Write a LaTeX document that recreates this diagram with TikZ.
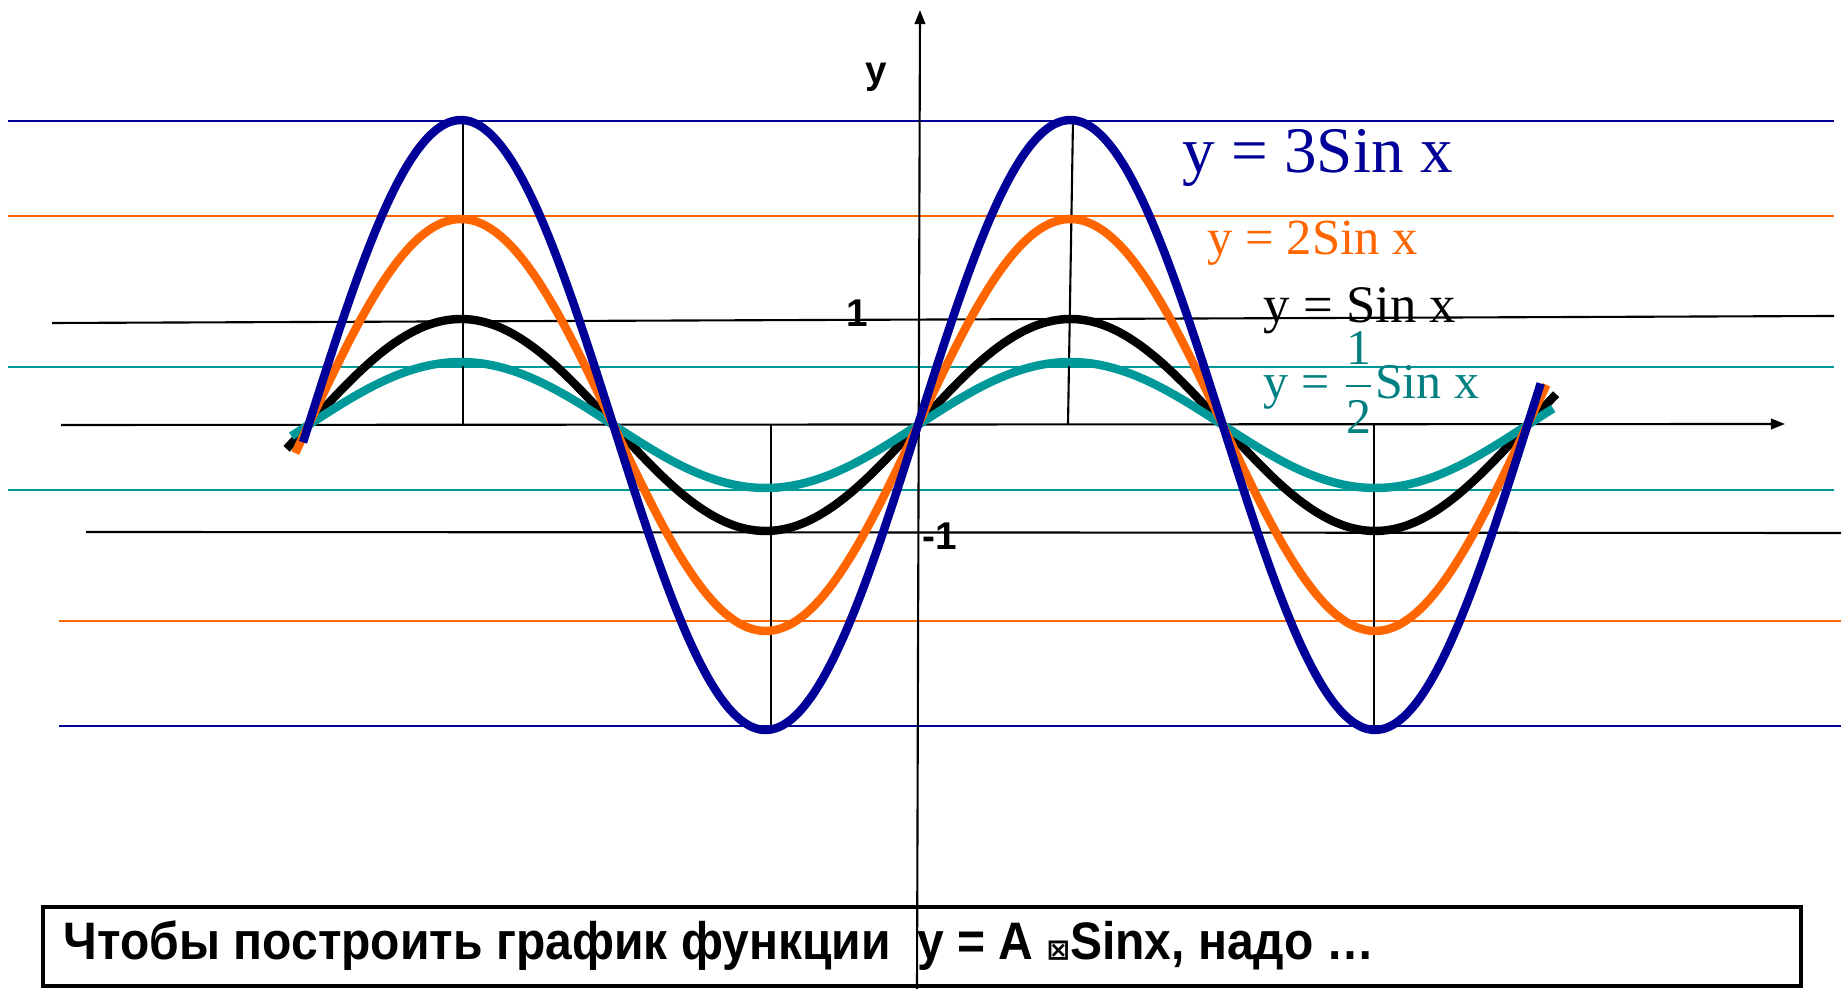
\documentclass[tikz,border=0pt]{standalone}
\usepackage{amsmath}
\usepackage{fontspec}
\setmainfont{Liberation Serif}
\newfontfamily\arialfont{Liberation Sans}
\newfontfamily\narrowfont{Liberation Sans}[FakeStretch=0.91]
\newfontfamily\symbfont{DejaVu Sans}
\usetikzlibrary{arrows.meta}
\definecolor{sinblue}{RGB}{0,0,153}
\definecolor{sinorange}{RGB}{255,102,0}
\definecolor{sinteal}{RGB}{0,153,153}
\definecolor{labelteal}{RGB}{0,128,128}

\begin{document}
\begin{tikzpicture}[x=0.01cm, y=-0.01cm,
    level/.style={line width=0.6pt},
    curve/.style={line width=2.4pt, smooth, samples=120, variable=\t},
    axis/.style={line width=0.6pt, -{Triangle[length=4pt,width=3pt]}},
    tick/.style={font=\arialfont\bfseries\fontsize{11}{13}\selectfont, inner sep=0pt},
    fnlabel/.style={anchor=base west, inner sep=0pt}
]
    \useasboundingbox (0,0) rectangle (1841,989);
    % horizontal levels
    \draw[level, sinblue] (8,121) -- (1834,121);
    \draw[level, sinorange] (8,216) -- (1834,216);
    \draw[level] (52,323) -- (1834,316);
    \draw[level, sinteal] (8,367) -- (1834,367);
    \draw[level, sinteal] (8,490) -- (1834,490);
    \draw[level] (86,532) -- (1841,533);
    \draw[level, sinorange] (59,621) -- (1841,621);
    \draw[level, sinblue] (59,726) -- (1841,726);
    % verticals at extrema
    \draw[level] (463,117) -- (463,425);
    \draw[level] (771,425) -- (771,726);
    \draw[level] (1073,121) -- (1068,425);
    \draw[level] (1374,425) -- (1374,730);
    % caption box
    \draw[line width=1pt] (43,907) rectangle (1801,986);
    \node[anchor=west, inner sep=0pt, font=\narrowfont\bfseries\fontsize{15}{18}\selectfont] (task) at (63,946)
        {Чтобы построить график функции\ \ y = A {\symbfont\fontsize{8}{8}\selectfont ⊠}Sinx, надо …};
    % axes
    \draw[axis] (61,425) -- (1785,424);
    \draw[axis] (917,989) -- (920,10);
    \node[tick] (ylab) at (876,77) {y};
    \node[tick] (one) at (857,313) {1};
    \node[tick] (mone) at (940,536) {-1};
    % curves
    \draw[curve, black, domain=-6.51:6.58] plot ({918+97*\t}, {425-106*sin(\t r)});
    \draw[curve, sinteal, domain=-6.46:6.55] plot ({918+97*\t}, {425-63*sin(\t r)});
    \draw[curve, sinorange, domain=-6.42:6.48] plot ({918+97*\t}, {425-206*sin(\t r)});
    \draw[curve, sinblue, domain=-6.34:6.42] plot ({918+97*\t}, {425-305*sin(\t r)});
    % function labels
    \node[fnlabel, text=sinblue, font=\fontsize{18.5}{22}\selectfont] (lab3) at (1182,173) {y = 3Sin x};
    \node[fnlabel, text=sinorange, font=\fontsize{14.4}{17}\selectfont] (lab2) at (1207,255) {y = 2Sin x};
    \node[fnlabel, text=black, font=\fontsize{15}{18}\selectfont] (lab1) at (1263,323) {y = Sin x};
    \node[fnlabel, text=labelteal, font=\fontsize{14.2}{17}\selectfont] (labh) at (1263,399) {y = $\dfrac{\text{1}}{\text{2}}$Sin x};
\end{tikzpicture}
\end{document}
